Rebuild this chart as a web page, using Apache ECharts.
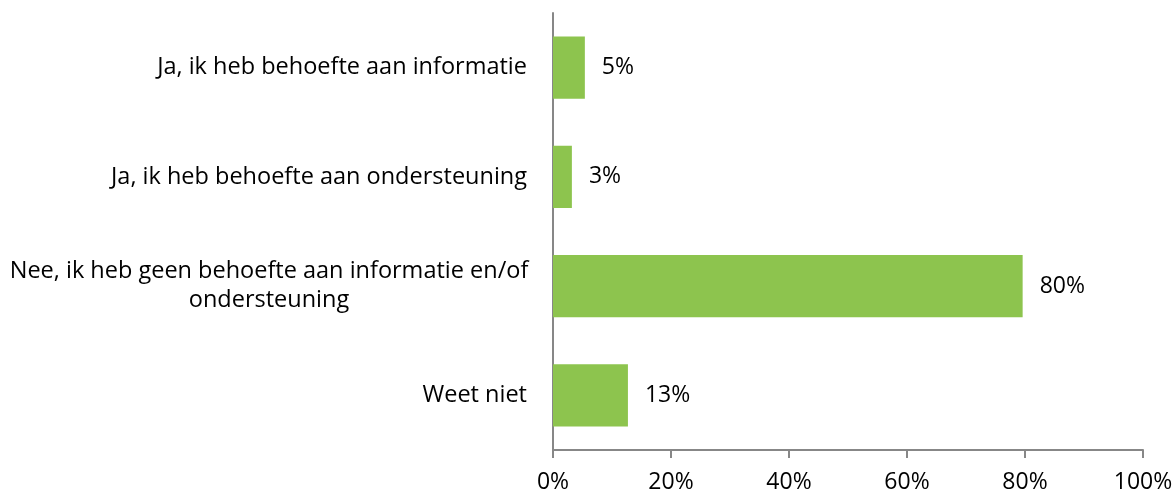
<!DOCTYPE html>
<html>
<head>
    <meta charset="utf-8" />
    <script src="https://cdn.jsdelivr.net/npm/echarts@6/dist/echarts.min.js"></script>
    <style>
        html, body { margin: 0; padding: 0; background: #fff; }
        #chart { width: 1176px; height: 496px; }
    </style>
</head>
<body>
<div id="chart"></div>
<script type="text/javascript">
    // antwoordcategorieen, van boven naar beneden
    var categories = [
        'Ja, ik heb behoefte aan informatie',
        'Ja, ik heb behoefte aan ondersteuning',
        'Nee, ik heb geen behoefte aan informatie en/of\nondersteuning',
        'Weet niet'
    ];
    var values = [5.4, 3.2, 79.6, 12.7];
    var xTicks = [0, 20, 40, 60, 80, 100];

    var fontFam = '"Open Sans", "Noto Sans", sans-serif';

    var chart = echarts.init(document.getElementById('chart'));
    var option = {
        animation: false,
        grid: {
            left: 553,
            right: 33,
            top: 13,
            bottom: 46
        },
        xAxis: {
            type: 'value',
            min: xTicks[0],
            max: xTicks[xTicks.length - 1],
            interval: 20,
            axisLine: { show: true, lineStyle: { color: '#878787', width: 2 } },
            axisTick: { show: true, length: 8, lineStyle: { color: '#878787', width: 2 } },
            splitLine: { show: false },
            axisLabel: {
                margin: 21,
                color: '#000',
                fontSize: 23,
                fontFamily: fontFam,
                formatter: function (v) { return v + '%'; }
            }
        },
        yAxis: {
            type: 'category',
            inverse: true,
            data: categories,
            axisLine: { show: true, lineStyle: { color: '#878787', width: 2 } },
            axisTick: { show: false },
            axisLabel: {
                margin: 26,
                color: '#000',
                fontSize: 23.5,
                lineHeight: 29,
                align: 'right',
                fontFamily: fontFam,
                formatter: function (v) {
                    if (v.indexOf('\n') < 0) return v;
                    // meerregelig label: regels gecentreerd
                    return v.split('\n').map(function (s) { return '{c|' + s + '}'; }).join('\n');
                },
                rich: {
                    c: { width: 516, align: 'center', fontSize: 23.5, lineHeight: 29, color: '#000', fontFamily: fontFam }
                }
            }
        },
        series: [{
            type: 'bar',
            data: values,
            barWidth: '57%',
            itemStyle: { color: '#8DC44E' },
            label: {
                show: true,
                position: 'right',
                distance: 17,
                color: '#000',
                fontSize: 23,
                fontFamily: fontFam,
                formatter: function (p) { return Math.round(p.value) + '%'; }
            }
        }]
    };
    chart.setOption(option);
</script>
</body>
</html>
